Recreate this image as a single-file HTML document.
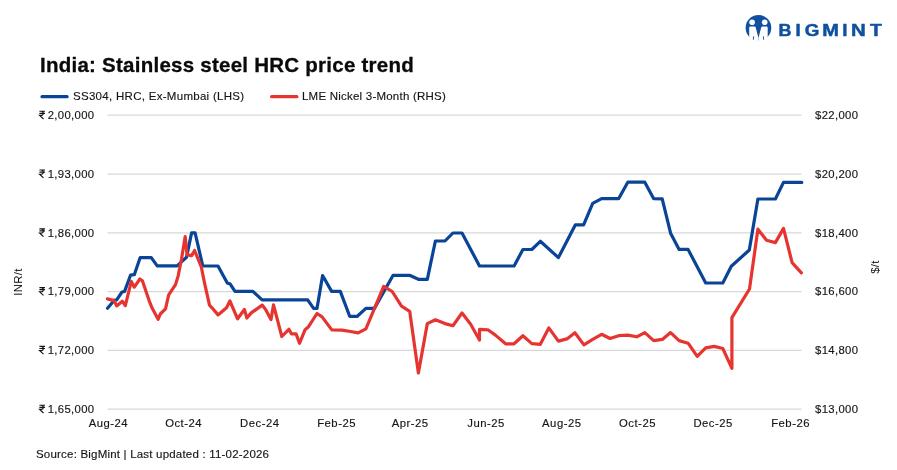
<!DOCTYPE html>
<html><head><meta charset="utf-8"><title>India: Stainless steel HRC price trend</title>
<style>
html,body{margin:0;padding:0;background:#fff;}
body{width:897px;height:470px;overflow:hidden;position:relative;font-family:"Liberation Sans",sans-serif;color:#151515;}
svg{position:absolute;left:0;top:0;will-change:transform;}
.title,.leg,.src{will-change:transform;}
svg text{font-family:"Liberation Sans",sans-serif;font-size:11.3px;fill:#151515;letter-spacing:0.35px;stroke:#151515;stroke-width:0.15px;}
.title{position:absolute;left:40px;top:52.8px;font-size:20.5px;font-weight:bold;color:#0a0a0a;-webkit-text-stroke:0.3px #0a0a0a;white-space:nowrap;letter-spacing:0.25px;}
.leg{position:absolute;top:90.2px;font-size:11.5px;-webkit-text-stroke:0.15px #151515;white-space:nowrap;color:#151515;letter-spacing:0.29px;}
.src{position:absolute;left:36px;top:448.3px;font-size:11.5px;-webkit-text-stroke:0.15px #151515;white-space:nowrap;color:#151515;letter-spacing:0.2px;}
.ax{position:absolute;font-size:11.4px;letter-spacing:0.3px;color:#151515;transform:rotate(-90deg);transform-origin:center;white-space:nowrap;}
</style></head><body>
<svg width="897" height="470" viewBox="0 0 897 470">
<line x1="107.5" x2="801.5" y1="115.2" y2="115.2" stroke="#d8d8d8" stroke-width="1.25"/>
<line x1="107.5" x2="801.5" y1="174.0" y2="174.0" stroke="#d8d8d8" stroke-width="1.25"/>
<line x1="107.5" x2="801.5" y1="232.8" y2="232.8" stroke="#d8d8d8" stroke-width="1.25"/>
<line x1="107.5" x2="801.5" y1="291.6" y2="291.6" stroke="#d8d8d8" stroke-width="1.25"/>
<line x1="107.5" x2="801.5" y1="350.4" y2="350.4" stroke="#d8d8d8" stroke-width="1.25"/>
<line x1="107.5" x2="801.5" y1="409.2" y2="409.2" stroke="#d8d8d8" stroke-width="1.25"/>
<g transform="translate(38.7,118.9)"><path d="M0.7,-7.7H6.3 M0.7,-5.6H6.3 M0.7,-7.7H2.6C5.2,-7.7 5.2,-3.5 2.6,-3.5H0.9L4.8,0.1" fill="none" stroke="#151515" stroke-width="1.15" stroke-linejoin="miter"/></g>
<text x="47.7" y="118.9">2,00,000</text>
<g transform="translate(38.7,177.7)"><path d="M0.7,-7.7H6.3 M0.7,-5.6H6.3 M0.7,-7.7H2.6C5.2,-7.7 5.2,-3.5 2.6,-3.5H0.9L4.8,0.1" fill="none" stroke="#151515" stroke-width="1.15" stroke-linejoin="miter"/></g>
<text x="47.7" y="177.7">1,93,000</text>
<g transform="translate(38.7,236.5)"><path d="M0.7,-7.7H6.3 M0.7,-5.6H6.3 M0.7,-7.7H2.6C5.2,-7.7 5.2,-3.5 2.6,-3.5H0.9L4.8,0.1" fill="none" stroke="#151515" stroke-width="1.15" stroke-linejoin="miter"/></g>
<text x="47.7" y="236.5">1,86,000</text>
<g transform="translate(38.7,295.3)"><path d="M0.7,-7.7H6.3 M0.7,-5.6H6.3 M0.7,-7.7H2.6C5.2,-7.7 5.2,-3.5 2.6,-3.5H0.9L4.8,0.1" fill="none" stroke="#151515" stroke-width="1.15" stroke-linejoin="miter"/></g>
<text x="47.7" y="295.3">1,79,000</text>
<g transform="translate(38.7,354.1)"><path d="M0.7,-7.7H6.3 M0.7,-5.6H6.3 M0.7,-7.7H2.6C5.2,-7.7 5.2,-3.5 2.6,-3.5H0.9L4.8,0.1" fill="none" stroke="#151515" stroke-width="1.15" stroke-linejoin="miter"/></g>
<text x="47.7" y="354.1">1,72,000</text>
<g transform="translate(38.7,412.9)"><path d="M0.7,-7.7H6.3 M0.7,-5.6H6.3 M0.7,-7.7H2.6C5.2,-7.7 5.2,-3.5 2.6,-3.5H0.9L4.8,0.1" fill="none" stroke="#151515" stroke-width="1.15" stroke-linejoin="miter"/></g>
<text x="47.7" y="412.9">1,65,000</text>
<text x="815" y="118.9">$22,000</text>
<text x="815" y="177.7">$20,200</text>
<text x="815" y="236.5">$18,400</text>
<text x="815" y="295.3">$16,600</text>
<text x="815" y="354.1">$14,800</text>
<text x="815" y="412.9">$13,000</text>
<text x="108.4" y="426.5" text-anchor="middle" style="letter-spacing:0.5px">Aug-24</text>
<text x="183.6" y="426.5" text-anchor="middle" style="letter-spacing:0.5px">Oct-24</text>
<text x="259.8" y="426.5" text-anchor="middle" style="letter-spacing:0.5px">Dec-24</text>
<text x="336.6" y="426.5" text-anchor="middle" style="letter-spacing:0.5px">Feb-25</text>
<text x="410.2" y="426.5" text-anchor="middle" style="letter-spacing:0.5px">Apr-25</text>
<text x="486.1" y="426.5" text-anchor="middle" style="letter-spacing:0.5px">Jun-25</text>
<text x="561.8" y="426.5" text-anchor="middle" style="letter-spacing:0.5px">Aug-25</text>
<text x="637.5" y="426.5" text-anchor="middle" style="letter-spacing:0.5px">Oct-25</text>
<text x="713.1" y="426.5" text-anchor="middle" style="letter-spacing:0.5px">Dec-25</text>
<text x="790.6" y="426.5" text-anchor="middle" style="letter-spacing:0.5px">Feb-26</text>
<polyline points="107.5,308.3 114.5,300.0 116.7,299.9 122.0,292.0 124.6,291.4 130.5,275.2 134.3,274.7 140.2,257.6 151.3,257.6 157.2,265.9 177.2,265.9 182.0,261.3 186.5,257.3 191.6,232.8 195.1,232.8 202.8,266.0 218.0,266.0 227.3,283.1 229.9,283.7 235.0,291.4 252.9,291.4 262.1,299.9 307.7,299.9 313.6,308.4 317.0,308.4 322.6,275.5 331.6,291.4 340.3,291.4 349.7,316.3 357.3,316.3 365.9,308.4 374.4,308.4 393.1,275.3 409.5,275.3 418.4,279.3 427.3,279.3 435.4,241.0 445.0,241.0 452.9,233.0 462.0,233.0 479.5,266.0 514.1,266.0 522.9,249.5 531.8,249.5 540.3,241.3 558.4,257.6 575.4,224.8 583.6,224.8 592.7,203.3 601.6,198.7 618.6,198.7 627.8,182.2 644.8,182.2 653.7,198.7 662.2,198.9 670.6,233.2 679.1,249.4 688.1,249.4 705.7,283.0 722.8,283.0 731.3,266.3 749.3,250.0 757.9,199.0 775.4,199.0 783.5,182.4 801.8,182.4" fill="none" stroke="#0a4496" stroke-width="3.2" stroke-linejoin="round" stroke-linecap="round"/>
<polyline points="107.4,298.9 114.1,300.6 116.7,305.9 122.3,301.2 125.3,305.7 131.3,281.4 134.3,287.2 139.9,279.0 142.4,280.7 149.1,300.6 152.1,308.1 158.1,319.3 160.3,314.0 165.5,308.8 167.5,300.0 168.7,294.8 175.5,284.6 178.1,276.1 181.5,259.0 185.2,236.6 187.1,254.8 191.7,255.6 194.6,250.5 201.3,267.0 204.5,282.9 209.5,305.2 212.0,307.8 218.0,314.9 226.5,307.8 229.9,301.0 237.6,318.8 244.4,309.5 246.9,318.0 251.2,312.9 262.2,305.1 265.6,309.5 271.0,319.6 273.5,304.8 281.8,336.5 288.9,329.3 291.5,333.9 296.1,333.9 299.5,343.3 305.1,329.7 308.2,327.1 317.0,313.5 322.1,316.9 331.8,329.9 342.0,330.1 350.5,331.5 358.2,332.9 365.9,328.9 383.7,286.4 392.2,291.5 401.5,306.2 409.7,311.3 418.4,373.0 427.3,323.6 435.4,319.8 445.0,323.6 452.9,325.7 462.0,313.0 470.5,324.0 479.5,340.0 479.5,329.4 487.9,329.8 495.4,335.1 505.6,343.8 514.1,343.8 522.9,335.7 531.8,343.6 540.3,344.3 548.8,327.9 558.4,341.1 566.9,338.9 574.9,332.8 583.9,344.9 592.7,339.4 601.6,334.3 610.1,338.5 618.6,335.7 627.8,335.1 636.7,336.8 644.8,332.6 653.7,340.6 662.3,339.4 670.6,332.6 679.1,340.6 688.1,343.2 697.2,356.4 705.7,347.9 714.3,346.4 722.8,348.5 731.9,368.3 731.9,317.7 749.5,289.0 757.9,229.1 766.5,240.3 775.4,242.6 783.5,228.4 792.1,262.7 801.4,272.8" fill="none" stroke="#e63431" stroke-width="3.2" stroke-linejoin="round" stroke-linecap="round"/>
<line x1="42" x2="67.1" y1="96.7" y2="96.7" stroke="#0a4496" stroke-width="3.2" stroke-linecap="round"/>
<line x1="271.6" x2="296.9" y1="96.7" y2="96.7" stroke="#e63431" stroke-width="3.2" stroke-linecap="round"/>
<g id="logo">
<circle cx="758.45" cy="27.8" r="12.85" fill="#1050a0"/>
<circle cx="752.1" cy="22.3" r="2.8" fill="#fff"/><circle cx="764.7" cy="22.3" r="2.8" fill="#fff"/>
<path d="M749.2,27.8Q749.2,26.5 750.5,26.5H754.4Q755.4,26.5 755.7,27.5L758.45,38V41.5H749.2Z" fill="#fff"/>
<path d="M767.7,27.8Q767.7,26.5 766.4,26.5H762.5Q761.5,26.5 761.2,27.5L758.45,38V41.5H767.7Z" fill="#fff"/>
<path d="M753.0,36.4H754.2L753.5,40H752.9Z M762.8,36.4H764.0L764.1,40H763.5Z" fill="#1050a0"/>
<text transform="translate(778.59,35.7) scale(1.120,1)" style="font-size:16.1px;font-weight:bold;fill:#1050a0;stroke:#1050a0;stroke-width:0.45px">B</text>
<text transform="translate(795.45,35.7) scale(1.164,1)" style="font-size:16.1px;font-weight:bold;fill:#1050a0;stroke:#1050a0;stroke-width:0.45px">I</text>
<text transform="translate(804.63,35.7) scale(1.169,1)" style="font-size:16.1px;font-weight:bold;fill:#1050a0;stroke:#1050a0;stroke-width:0.45px">G</text>
<text transform="translate(822.16,35.7) scale(1.244,1)" style="font-size:16.1px;font-weight:bold;fill:#1050a0;stroke:#1050a0;stroke-width:0.45px">M</text>
<text transform="translate(842.35,35.7) scale(1.164,1)" style="font-size:16.1px;font-weight:bold;fill:#1050a0;stroke:#1050a0;stroke-width:0.45px">I</text>
<text transform="translate(850.93,35.7) scale(1.268,1)" style="font-size:16.1px;font-weight:bold;fill:#1050a0;stroke:#1050a0;stroke-width:0.45px">N</text>
<text transform="translate(870.08,35.7) scale(1.202,1)" style="font-size:16.1px;font-weight:bold;fill:#1050a0;stroke:#1050a0;stroke-width:0.45px">T</text>
</g>
</svg>
<div class="title">India: Stainless steel HRC price trend</div>
<div class="leg" style="left:72.6px">SS304, HRC, Ex-Mumbai (LHS)</div>
<div class="leg" style="left:302px;letter-spacing:0.22px">LME Nickel 3-Month (RHS)</div>
<div class="src">Source: BigMint | Last updated : 11-02-2026</div>
<div class="ax" id="axl" style="left:-1.6px;top:276px;width:40px;text-align:center">INR/t</div>
<div class="ax" id="axr" style="left:855px;top:260.9px;width:40px;text-align:center">$/t</div>
</body></html>
